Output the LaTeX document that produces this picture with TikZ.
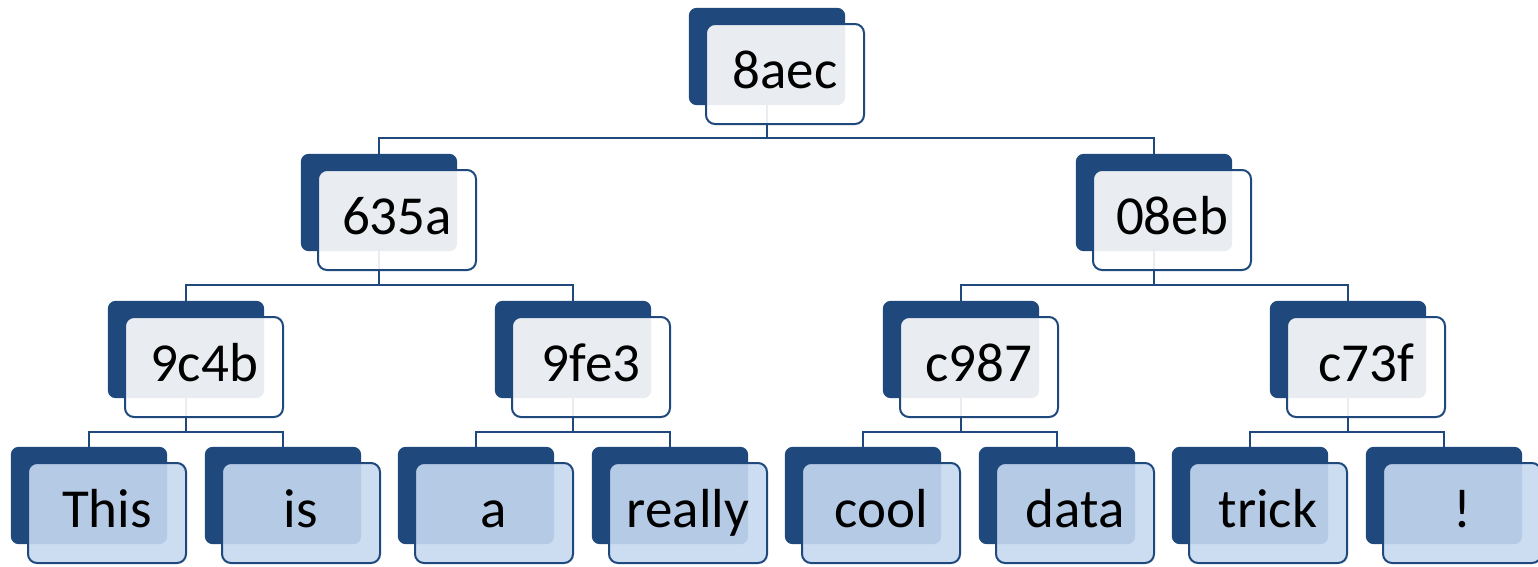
\documentclass[tikz,border=0pt]{standalone}
\usepackage{fontspec}
\setmainfont{Carlito}
\definecolor{navy}{HTML}{1F497D}
\definecolor{leafblue}{HTML}{C6D9F1}
\tikzset{
  x=1pt, y=-1pt,
  backbox/.style={draw=none, fill=navy, rounded corners=8pt,
    minimum width=156pt, minimum height=97pt, inner sep=0pt},
  frontbox/.style={draw=navy, line width=2pt, rounded corners=9pt,
    minimum width=158pt, minimum height=100pt, inner sep=0pt,
    text height=40pt, text depth=12pt,
    font=\fontsize{55}{60}\selectfont},
  hashbox/.style={frontbox, fill=white, fill opacity=0.9, text opacity=1},
  leafbox/.style={frontbox, fill=leafblue, fill opacity=0.9, text opacity=1},
  conn/.style={draw=navy, line width=2.5pt},
}
\begin{document}
\begin{tikzpicture}
\useasboundingbox (0,0) rectangle (1538,566);

% back plates (x, y = top-left corner)
\foreach \nm/\x/\y in {r/689/8, a/301/154, b/1076/154,
    aa/108/301, ab/495/301, ba/883/301, bb/1270/301,
    l1/11/447, l2/205/447, l3/398/447, l4/592/447,
    l5/785/447, l6/979/447, l7/1172/447, l8/1366/447}
  \coordinate (\nm-tl) at (\x,\y);

% connectors (behind all boxes)
\path (r-tl) ++(78,48.5) node[backbox, fill=none] (rb) {};
\path (a-tl) ++(78,48.5) node[backbox, fill=none] (ab0) {};
\path (b-tl) ++(78,48.5) node[backbox, fill=none] (bb0) {};
\path (aa-tl) ++(78,48.5) node[backbox, fill=none] (aab) {};
\path (ab-tl) ++(78,48.5) node[backbox, fill=none] (abb) {};
\path (ba-tl) ++(78,48.5) node[backbox, fill=none] (bab) {};
\path (bb-tl) ++(78,48.5) node[backbox, fill=none] (bbb) {};
\foreach \i in {1,...,8}
  \path (l\i-tl) ++(78,48.5) node[backbox, fill=none] (l\i b) {};

\draw[conn] (rb.south) -- ++(0,33) -| (ab0.north);
\draw[conn] (rb.south) -- ++(0,33) -| (bb0.north);
\draw[conn] (ab0.south) -- ++(0,34) -| (aab.north);
\draw[conn] (ab0.south) -- ++(0,34) -| (abb.north);
\draw[conn] (bb0.south) -- ++(0,34) -| (bab.north);
\draw[conn] (bb0.south) -- ++(0,34) -| (bbb.north);
\draw[conn] (aab.south) -- ++(0,34) -| (l1b.north);
\draw[conn] (aab.south) -- ++(0,34) -| (l2b.north);
\draw[conn] (abb.south) -- ++(0,34) -| (l3b.north);
\draw[conn] (abb.south) -- ++(0,34) -| (l4b.north);
\draw[conn] (bab.south) -- ++(0,34) -| (l5b.north);
\draw[conn] (bab.south) -- ++(0,34) -| (l6b.north);
\draw[conn] (bbb.south) -- ++(0,34) -| (l7b.north);
\draw[conn] (bbb.south) -- ++(0,34) -| (l8b.north);

% dark back plates
\foreach \nm in {rb,ab0,bb0,aab,abb,bab,bbb,l1b,l2b,l3b,l4b,l5b,l6b,l7b,l8b}
  \fill[navy, rounded corners=8pt] (\nm.north west) rectangle (\nm.south east);

% translucent front cards with the labels
\path (r-tl)  ++(96,66) node[hashbox] (rf)  {8aec};
\path (a-tl)  ++(96,66) node[hashbox] (af)  {635a};
\path (b-tl)  ++(96,66) node[hashbox] (bf)  {08eb};
\path (aa-tl) ++(96,66) node[hashbox] (aaf) {9c4b};
\path (ab-tl) ++(96,66) node[hashbox] (abf) {9fe3};
\path (ba-tl) ++(96,66) node[hashbox] (baf) {c987};
\path (bb-tl) ++(96,66) node[hashbox] (bbf) {c73f};
\path (l1-tl) ++(96,66) node[leafbox] (l1f) {This};
\path (l2-tl) ++(96,66) node[leafbox] (l2f) {is};
\path (l3-tl) ++(96,66) node[leafbox] (l3f) {a};
\path (l4-tl) ++(96,66) node[leafbox] (l4f) {really};
\path (l5-tl) ++(96,66) node[leafbox] (l5f) {cool};
\path (l6-tl) ++(96,66) node[leafbox] (l6f) {data};
\path (l7-tl) ++(96,66) node[leafbox] (l7f) {trick};
\path (l8-tl) ++(96,66) node[leafbox] (l8f) {!};
\end{tikzpicture}
\end{document}
